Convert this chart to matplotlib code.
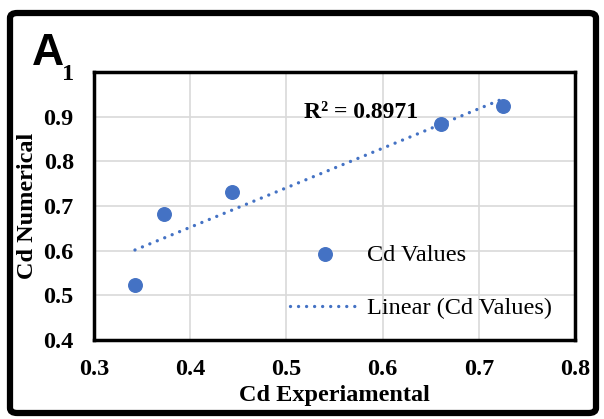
import matplotlib.pyplot as plt
import numpy as np
from matplotlib.patches import FancyBboxPatch

# Data
cd_exp = [0.3426, 0.3728, 0.4431, 0.6607, 0.7248]
cd_num = [0.523, 0.681, 0.731, 0.884, 0.924]
x_ticks = [0.3, 0.4, 0.5, 0.6, 0.7, 0.8]
y_ticks = [0.4, 0.5, 0.6, 0.7, 0.8, 0.9, 1.0]
y_tick_labels = ['0.4', '0.5', '0.6', '0.7', '0.8', '0.9', '1']

blue = '#4472C4'
serif = 'Liberation Serif'

fig = plt.figure(figsize=(6.04, 4.19), dpi=100)
ax = fig.add_axes([94/604, 1-340/419, 481/604, 268/419])

# outer rounded frame
W, H = 604, 419
frame = FancyBboxPatch((10/W, 6/H), 586/W, 400/H, boxstyle='round,pad=0,rounding_size=0.012',
                       transform=fig.transFigure, fill=False, edgecolor='black', linewidth=4.5)
fig.patches.append(frame)

ax.scatter(cd_exp, cd_num, s=95, color=blue, zorder=3, label='Cd Values')

# linear trendline
slope, intercept = np.polyfit(cd_exp, cd_num, 1)
xs = np.array([min(cd_exp), max(cd_exp)])
ax.plot(xs, slope*xs + intercept, linestyle=(0, (0.01, 2.4)), dash_capstyle='round',
        color=blue, linewidth=2.4, zorder=2, label='Linear (Cd Values)')

ax.text(0.578, 0.885, 'R² = 0.8971', fontsize=17, fontweight='bold', family=serif,
        ha='center', va='bottom')

ax.set_xlim(0.3, 0.8)
ax.set_ylim(0.4, 1.0)
ax.set_xticks(x_ticks)
ax.set_xticklabels([str(v) for v in x_ticks])
ax.set_yticks(y_ticks)
ax.set_yticklabels(y_tick_labels)
for lab in ax.get_xticklabels() + ax.get_yticklabels():
    lab.set_family(serif)
    lab.set_fontweight('bold')
    lab.set_fontsize(17.5)
ax.tick_params(length=0)
ax.tick_params(axis='x', pad=14)
ax.tick_params(axis='y', pad=14.5)
ax.grid(True, color='#d9d9d9', linewidth=1.2)
ax.set_axisbelow(True)
for sp in ax.spines.values():
    sp.set_linewidth(2.5)
    sp.set_color('black')

ax.set_xlabel('Cd Experiamental', fontsize=17.5, fontweight='bold', family=serif, labelpad=3)
ax.set_ylabel('Cd Numerical', fontsize=17.5, fontweight='bold', family=serif, labelpad=4)

leg = ax.legend(loc='lower left', bbox_to_anchor=(0.361, -0.004), frameon=False,
                prop={'family': serif, 'size': 17.5}, handlelength=2.9, labelspacing=1.3,
                handletextpad=0.3, borderpad=0.4)

fig.text(32/W, 1-65/H, 'A', fontsize=32, fontweight='bold', family='Liberation Sans',
         ha='left', va='baseline')

fig.savefig('out.png', dpi=100)
